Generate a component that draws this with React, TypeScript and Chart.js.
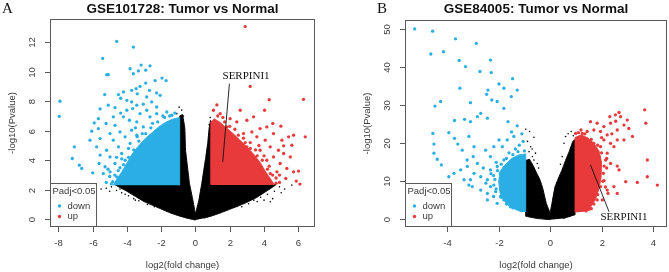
import React, { useEffect, useRef } from "react";
import { Chart, registerables } from "chart.js";
Chart.register(...registerables);

// ---------- data ----------
const titleA = "GSE101728: Tumor vs Normal";
const titleB = "GSE84005: Tumor vs Normal";
const legendTitle = "Padj<0.05";
const legendLabels = ["down", "up"];
const geneLabel = "SERPINI1";

const xTicksA = [-8, -6, -4, -2, 0, 2, 4, 6];
const yTicksA = [0, 2, 4, 6, 8, 10, 12];
const xTicksB = [-4, -2, 0, 2, 4];
const yTicksB = [0, 10, 20, 30, 40, 50];

const xRangeA = [-8.48, 6.97];
const yRangeA = [-0.52, 13.57];
const xRangeB = [-5.645, 4.545];
const yRangeB = [-2.03, 52.45];

// dense regions (outline of the solid clouds)
const blackAreaA = [
  [0, -0.05], [-0.5, 0.08], [-1, 0.25], [-1.5, 0.45], [-2, 0.7], [-2.5, 0.95], [-3, 1.2], [-3.5, 1.55],
  [-4, 1.9], [-4.4, 2.15], [-4.7, 2.35], [-0.92, 2.35], [-0.92, 7.0], [-0.75, 7.1], [-0.62, 6.2],
  [-0.58, 4.7], [-0.35, 2.43], [-0.15, 1.3], [0, 0.35], [0.2, 1.3], [0.37, 2.43], [0.6, 4.2],
  [0.72, 5.2], [0.8, 6.2], [0.88, 6.7], [0.92, 6.5], [0.92, 2.35], [4.7, 2.35], [4.4, 2.1], [4.0, 1.8],
  [3.6, 1.5], [3.0, 1.15], [2.5, 0.9], [2.0, 0.68], [1.5, 0.45], [1.0, 0.25], [0.5, 0.08],
];
const blueAreaA = [
  [-0.92, 2.3], [-0.92, 6.9], [-1.3, 6.8], [-1.7, 6.6], [-2.1, 6.3], [-2.5, 5.9], [-2.9, 5.5],
  [-3.3, 5.0], [-3.7, 4.4], [-4.0, 3.8], [-4.3, 3.2], [-4.6, 2.7], [-4.8, 2.3],
];
const redAreaA = [
  [0.9, 2.33], [0.9, 6.6], [1.1, 6.8], [1.4, 6.6], [1.8, 6.2], [2.2, 5.8], [2.6, 5.35], [3.0, 4.9],
  [3.4, 4.4], [3.8, 3.8], [4.1, 3.2], [4.4, 2.7], [4.6, 2.33],
];
const blackAreaB = [
  [0, -0.1], [-0.5, 0.2], [-0.95, 0.8], [-0.95, 15.5], [-0.8, 15.8], [-0.65, 14.0], [-0.55, 12.5],
  [-0.4, 10.5], [-0.3, 8.5], [-0.15, 4.2], [0, 1.6], [0.07, 4.2], [0.19, 8.6], [0.3, 10.5],
  [0.45, 12.8], [0.6, 15.5], [0.75, 18], [0.88, 20.5], [0.97, 21], [0.97, 1.2], [0.5, 0.2],
];
const blueAreaB = [
  [-0.95, 1.9], [-0.95, 17.2], [-1.2, 17.0], [-1.5, 16.0], [-1.8, 14.0], [-1.95, 12.5], [-2.0, 10],
  [-1.95, 7], [-1.8, 5], [-1.6, 3.5], [-1.35, 2.6], [-1.1, 1.9],
];
const redAreaB = [
  [0.97, 1.8], [0.97, 21.5], [1.2, 22.2], [1.45, 21.5], [1.7, 20.0], [1.9, 18], [2.0, 15], [1.98, 11],
  [1.9, 8], [1.75, 5], [1.55, 3], [1.3, 2.0],
];

// individual genes outside the dense regions
const blueDotsA = [
  [-4.59, 12.05], [-3.62, 11.67], [-5.41, 10.9], [-5.17, 9.8], [-5.08, 9.8], [-3.81, 10.2], [-3.17, 10.45],
  [-2.9, 10.1], [-2.65, 10.4], [-3.62, 9.86], [-3.33, 10.05], [-1.95, 9.57], [-1.71, 9.4], [-2.35, 9.4],
  [-2.9, 9.23], [-3.23, 9.0], [-3.46, 8.85], [-3.72, 8.74], [-4.2, 8.63], [-5.29, 8.45], [-4.49, 8.45],
  [-3.39, 8.5], [-2.68, 8.74], [-2.26, 8.56], [-2.06, 8.4], [-2.84, 8.29], [-4.36, 8.2], [-4.0, 8.06],
  [-3.72, 7.95], [-5.08, 7.73], [-4.69, 7.57], [-3.42, 7.73], [-3.04, 7.8], [-2.55, 7.95], [-2.26, 7.61],
  [-5.56, 7.48], [-4.36, 7.2], [-4.0, 7.39], [-3.66, 7.5], [-5.66, 6.82], [-4.79, 6.94], [-4.2, 6.94],
  [-3.23, 7.16], [-2.84, 7.39], [-2.26, 7.16], [-1.67, 7.27], [-1.38, 7.05], [-5.9, 6.53], [-5.21, 6.49],
  [-4.69, 6.37], [-3.85, 6.71], [-3.42, 6.6], [-2.65, 6.94], [-6.05, 5.97], [-5.66, 6.15], [-4.98, 5.81],
  [-4.4, 5.92], [-3.72, 6.04], [-3.04, 6.26], [-6.15, 5.36], [-5.56, 5.47], [-4.79, 5.36], [-4.1, 5.59],
  [-3.42, 5.7], [-5.76, 4.91], [-5.18, 4.68], [-4.49, 4.91], [-3.81, 5.14], [-5.56, 4.35], [-4.98, 4.23],
  [-4.3, 4.46], [-5.62, 3.78], [-5.27, 3.56], [-4.69, 3.78], [-4.1, 4.0], [-5.37, 3.1], [-4.98, 3.22],
  [-4.59, 2.88], [-4.82, 2.55], [-4.4, 2.55], [-7.9, 8.0], [-7.94, 6.98], [-7.06, 4.91], [-7.18, 4.12],
  [-6.77, 3.67], [-6.63, 3.45], [-5.99, 3.15], [-1.9, 7.0], [-2.5, 6.5], [-3.1, 5.8], [-3.9, 4.8],
  [-4.4, 3.5], [-5.0, 2.9], [-5.2, 2.5], [-1.2, 7.2], [-3.5, 6.2], [-4.6, 4.2],
  [-4.9, 2.4], [-4.7, 3.0], [-4.5, 3.3], [-4.2, 3.7], [-3.9, 4.2], [-3.6, 4.7], [-3.3, 5.3], [-2.9, 5.8],
  [-2.6, 6.2], [-2.2, 6.6], [-1.8, 6.9], [-1.5, 7.0], [-5.1, 3.4], [-4.3, 4.1], [-3.4, 5.6],
];
const redDotsA = [
  [2.9, 13.06], [3.19, 9.0], [4.3, 8.1], [6.3, 8.13], [1.25, 7.75], [2.61, 7.39], [4.03, 7.39], [3.39, 6.94],
  [2.02, 6.82], [2.41, 6.6], [3.0, 6.71], [4.51, 6.49], [4.98, 6.31], [3.77, 6.15], [4.16, 6.26], [3.29, 5.92],
  [5.72, 5.7], [5.43, 5.59], [6.4, 5.59], [3.58, 5.59], [4.55, 5.81], [5.04, 5.36], [2.8, 5.81], [4.07, 5.36],
  [5.62, 5.02], [4.36, 4.91], [5.14, 4.98], [4.84, 4.68], [3.77, 4.68], [5.53, 4.23], [4.55, 4.23],
  [5.14, 4.46], [4.16, 4.0], [4.94, 3.78], [5.33, 3.45], [5.72, 3.22], [6.01, 3.27], [4.75, 3.22],
  [3.77, 3.33], [4.36, 3.1], [5.27, 2.77], [5.88, 2.59], [6.09, 2.39], [3.19, 2.88], [3.97, 2.66],
  [3.39, 4.0], [3.0, 4.91], [2.22, 5.36], [1.83, 6.26], [1.44, 7.16], [1.05, 7.39], [1.6, 6.9],
  [2.3, 6.1], [2.8, 5.5], [3.5, 4.7], [4.0, 4.3], [4.3, 3.6], [4.7, 2.8], [4.9, 2.5], [3.2, 5.2],
  [4.7, 2.45], [4.5, 3.0], [4.2, 3.4], [3.9, 4.0], [3.6, 4.3], [3.2, 4.8], [2.9, 5.2], [2.5, 5.7],
  [2.0, 6.3], [1.7, 6.6], [1.3, 7.0], [4.9, 3.0], [3.7, 5.0],
];
const blackDotsA = [
  [-4.9, 2.2], [-5.2, 2.1], [-5.5, 2.05], [-4.6, 1.95], [-4.3, 1.8], [-3.9, 1.6], [-3.6, 1.4], [-3.3, 1.25],
  [-3.8, 2.0], [-5.0, 1.9], [-2.8, 1.0], [-2.4, 0.85], [-4.4, 2.05], [-4.1, 1.7], [-3.5, 1.3], [-5.8, 2.2],
  [4.9, 2.2], [5.2, 2.05], [4.6, 1.9], [4.2, 1.7], [3.8, 1.5], [3.4, 1.3], [4.36, 1.19], [5.62, 2.32],
  [3.1, 1.05], [2.7, 0.85], [4.5, 1.4], [4.0, 1.3], [5.0, 1.8], [3.6, 1.2],
  [-1.09, 7.16], [-0.8, 7.4], [-0.7, 7.0], [0.86, 6.9], [0.8, 6.4], [-0.95, 7.6],
];
const blueDotsB = [
  [-5.27, 50.1], [-4.57, 49.5], [-4.64, 43.5], [-4.15, 44.1], [-3.68, 47.5], [-2.87, 46.3], [-3.54, 41.8],
  [-3.29, 40.2], [-2.32, 41.9], [-2.73, 38.9], [-2.29, 38.6], [-1.46, 37.0], [-3.51, 34.5], [-1.99, 35.6],
  [-1.8, 34.5], [-1.28, 34.0], [-2.42, 34.0], [-2.47, 32.9], [-1.51, 32.3], [-4.26, 31.0], [-4.48, 29.8],
  [-3.1, 30.7], [-2.27, 31.4], [-2.06, 31.0], [-1.8, 29.2], [-2.7, 27.9], [-2.83, 27.0], [-3.1, 25.7],
  [-3.72, 26.0], [-3.33, 26.3], [-2.44, 26.6], [-1.64, 25.7], [-1.28, 24.6], [-3.94, 22.8], [-4.56, 22.6],
  [-4.52, 19.8], [-4.52, 17.4], [-4.39, 15.8], [-4.23, 14.3], [-3.59, 19.8], [-3.72, 21.3], [-3.16, 21.8],
  [-3.42, 18.2], [-2.96, 19.1], [-2.51, 18.2], [-2.32, 16.5], [-2.99, 16.5], [-3.23, 15.6], [-2.83, 14.7],
  [-3.74, 12.1], [-3.94, 11.2], [-3.48, 13.0], [-3.22, 13.9], [-3.1, 10.4], [-2.96, 12.1], [-2.7, 11.2],
  [-2.44, 10.4], [-2.32, 13.0], [-2.19, 9.0], [-1.93, 12.1], [-2.06, 13.9], [-1.8, 15.6], [-1.86, 19.1],
  [-1.67, 20.9], [-1.41, 21.8], [-1.99, 20.9], [-2.19, 19.1], [-3.35, 10.4], [-3.03, 8.6], [-2.7, 7.7],
  [-2.44, 6.8], [-2.12, 7.3], [-1.93, 6.0], [-1.8, 5.1], [-1.67, 4.2], [-2.06, 4.2], [-1.54, 3.3],
  [-2.32, 8.6], [-3.16, 9.0], [-2.44, 5.1], [-1.2, 19.5], [-1.1, 22.5], [-1.35, 18.5], [-1.6, 17.5],
  [-2.1, 15.0], [-2.2, 11.5], [-2.6, 13.5], [-2.5, 9.5], [-1.05, 20.5], [-1.5, 23.0],
  [-2.1, 8.0], [-2.15, 10.5], [-2.05, 12.8], [-1.9, 14.5], [-1.7, 16.0], [-1.45, 17.0], [-1.9, 5.8],
  [-1.7, 4.0], [-1.45, 3.0], [-2.2, 6.0], [-2.3, 12.0], [-1.25, 17.8], [-1.0, 18.0],
];
const redDotsB = [
  [2.68, 28.1], [3.68, 28.8], [3.72, 25.3], [3.78, 15.6], [3.78, 11.2], [4.17, 9.0], [3.39, 9.7], [2.94, 9.9],
  [2.68, 13.0], [2.61, 14.0], [2.22, 17.4], [2.48, 19.1], [2.22, 22.2], [2.61, 23.5], [2.87, 24.8],
  [3.06, 23.9], [3.0, 26.1], [2.74, 27.0], [2.54, 27.5], [2.32, 27.0], [2.35, 25.3], [2.09, 24.4],
  [1.96, 23.1], [1.83, 25.3], [1.57, 25.7], [1.7, 23.5], [1.44, 23.1], [1.25, 22.6], [3.2, 21.8],
  [2.87, 20.9], [2.61, 20.9], [2.35, 20.0], [2.09, 20.9], [1.96, 19.1], [2.16, 15.6], [2.35, 14.7],
  [2.22, 7.7], [1.96, 8.6], [2.07, 12.1], [1.83, 5.1], [1.83, 12.1], [2.03, 5.1], [2.25, 6.8],
  [2.61, 6.8], [2.48, 8.6], [0.99, 22.6], [1.12, 20.9], [1.44, 20.9], [1.7, 20.0], [1.9, 16.5],
  [2.1, 10.2], [2.2, 13.5], [1.4, 2.2], [1.6, 2.8], [1.2, 23.5], [2.4, 22.5], [2.0, 21.5], [2.55, 25.8],
  [2.05, 10.0], [2.1, 14.0], [2.0, 17.5], [1.85, 19.5], [1.6, 21.0], [1.35, 22.5], [1.85, 6.5],
  [1.7, 4.0], [1.5, 2.6], [2.15, 8.5], [1.1, 22.8], [2.2, 16.0],
];
const blackDotsB = [
  [-0.95, 23.7], [-0.8, 23.1], [-0.63, 21.6], [-0.76, 19.1], [-0.57, 17.4], [-0.5, 14.7], [-0.63, 15.6],
  [-0.69, 16.5], [-0.82, 17.8], [-0.88, 20.5], [-0.45, 13.5], [-0.7, 18.5],
  [0.6, 21.8], [0.82, 23.1], [0.54, 20.0], [0.47, 16.5], [0.7, 22.5], [0.4, 14.5], [0.9, 22.0],
];

const serpinTextA = [2.95, 9.68];
const serpinLineA = [[1.98, 9.19], [1.59, 3.89]];
const serpinTextB = [2.87, 0.7];
const serpinLineB = [[1.57, 14.3], [2.29, 2.0]];

// ---------- styles ----------
const BLUE = "#2AAEE4";
const RED = "#E83A3A";
const BLACK = "#000000";
const TEXT = "#3a3a3a";
const FRAME = "#5a5a5a";
const SANS = '"Liberation Sans", Arial, sans-serif';
const SERIF = '"Liberation Serif", "Times New Roman", serif';

type Pt = { x: number; y: number };
const toPts = (a: number[][]): Pt[] => a.map(([x, y]) => ({ x, y }));

const polygon = (d: number[][], color: string, order: number) => ({
  type: "line" as const,
  data: toPts(d),
  fill: "shape",
  backgroundColor: color,
  borderColor: color,
  borderWidth: 1,
  pointRadius: 0,
  pointHoverRadius: 0,
  tension: 0.0001,
  capBezierPoints: false,
  order,
});
const dots = (d: number[][], color: string, r: number, order: number) => ({
  type: "scatter" as const,
  data: toPts(d),
  backgroundColor: color,
  pointBorderWidth: 0,
  borderWidth: 0,
  pointRadius: r,
  pointHoverRadius: r,
  order,
});

const decoPlugin = {
  id: "deco",
  afterDatasetsDraw(chart: any, _args: any, o: any) {
    const { ctx, chartArea: a, scales } = chart;
    const sx = scales.x;
    const sy = scales.y;
    ctx.save();
    // gene annotation
    ctx.strokeStyle = "#111";
    ctx.lineWidth = 0.9;
    ctx.beginPath();
    ctx.moveTo(sx.getPixelForValue(o.line[0][0]), sy.getPixelForValue(o.line[0][1]));
    ctx.lineTo(sx.getPixelForValue(o.line[1][0]), sy.getPixelForValue(o.line[1][1]));
    ctx.stroke();
    ctx.fillStyle = "#111";
    ctx.font = `11px ${SERIF}`;
    ctx.textAlign = "center";
    ctx.textBaseline = "middle";
    ctx.fillText(geneLabel, sx.getPixelForValue(o.text[0]), sy.getPixelForValue(o.text[1]));

    // legend box (bottom-left inside the plot)
    const lw = 47, lh = 44;
    const lx = a.left, ly = a.bottom - lh;
    ctx.fillStyle = "#fff";
    ctx.fillRect(lx, ly, lw, lh);
    ctx.strokeStyle = FRAME;
    ctx.lineWidth = 1;
    ctx.strokeRect(lx + 0.5, ly + 0.5, lw - 1, lh - 1);
    ctx.font = `9.5px ${SANS}`;
    ctx.fillStyle = TEXT;
    ctx.textAlign = "left";
    ctx.fillText(legendTitle, lx + 2.5, ly + 8.3);
    const cols = [BLUE, RED];
    legendLabels.forEach((lab, i) => {
      const yy = ly + 23 + i * 10.5;
      ctx.fillStyle = cols[i];
      ctx.beginPath();
      ctx.arc(lx + 9.5, yy, 1.7, 0, Math.PI * 2);
      ctx.fill();
      ctx.fillStyle = TEXT;
      ctx.fillText(lab, lx + 17.5, yy);
    });

    // frame
    ctx.strokeStyle = FRAME;
    ctx.lineWidth = 1;
    ctx.strokeRect(Math.round(a.left) + 0.5, Math.round(a.top) + 0.5, Math.round(a.width) - 1, Math.round(a.height) - 1);

    // x ticks
    ctx.fillStyle = TEXT;
    ctx.font = `9.5px ${SANS}`;
    ctx.textAlign = "center";
    ctx.textBaseline = "middle";
    o.xTicks.forEach((t: number) => {
      const px = Math.round(sx.getPixelForValue(t)) + 0.5;
      ctx.beginPath();
      ctx.moveTo(px, a.bottom);
      ctx.lineTo(px, a.bottom + 5);
      ctx.stroke();
      ctx.fillText(String(t), px, a.bottom + 16.5);
    });
    // y ticks (rotated like R)
    o.yTicks.forEach((t: number) => {
      const py = Math.round(sy.getPixelForValue(t)) + 0.5;
      ctx.beginPath();
      ctx.moveTo(a.left, py);
      ctx.lineTo(a.left - 5, py);
      ctx.stroke();
      ctx.save();
      ctx.translate(a.left - 17.5, py);
      ctx.rotate(-Math.PI / 2);
      ctx.fillText(String(t), 0, 0);
      ctx.restore();
    });
    // axis titles
    ctx.fillText("log2(fold change)", (a.left + a.right) / 2, a.bottom + 38.5);
    ctx.save();
    ctx.translate(a.left - 37.5, (a.top + a.bottom) / 2);
    ctx.rotate(-Math.PI / 2);
    ctx.fillText("-log10(Pvalue)", 0, 0);
    ctx.restore();
    // main title
    ctx.fillStyle = "#111";
    ctx.font = `bold 13.5px ${SANS}`;
    ctx.fillText(o.title, (a.left + a.right) / 2, 9);
    // panel letter
    ctx.font = `15px ${SERIF}`;
    ctx.textAlign = "left";
    ctx.textBaseline = "alphabetic";
    ctx.fillText(o.letter, o.letterX, 13);
    ctx.restore();
  },
};

type PanelCfg = {
  left: number;
  width: number;
  padding: { left: number; right: number; top: number; bottom: number };
  xRange: number[];
  yRange: number[];
  black: number[][];
  blue: number[][];
  red: number[][];
  blueDots: number[][];
  redDots: number[][];
  blackDots: number[][];
  deco: any;
};

function Panel({ cfg }: { cfg: PanelCfg }) {
  const ref = useRef<HTMLCanvasElement>(null);
  useEffect(() => {
    const chart = new Chart(ref.current as HTMLCanvasElement, {
      type: "scatter",
      data: {
        datasets: [
          dots(cfg.redDots, RED, 1.65, 0),
          dots(cfg.blueDots, BLUE, 1.65, 1),
          polygon(cfg.red, RED, 2),
          polygon(cfg.blue, BLUE, 3),
          dots(cfg.blackDots, BLACK, 0.8, 4),
          polygon(cfg.black, BLACK, 5),
        ] as any,
      },
      options: {
        animation: false,
        responsive: false,
        maintainAspectRatio: false,
        events: [],
        layout: { padding: cfg.padding },
        scales: {
          x: { type: "linear", min: cfg.xRange[0], max: cfg.xRange[1], display: false },
          y: { type: "linear", min: cfg.yRange[0], max: cfg.yRange[1], display: false },
        },
        plugins: {
          legend: { display: false },
          tooltip: { enabled: false },
          title: { display: false },
          deco: cfg.deco,
        } as any,
      },
      plugins: [decoPlugin],
    });
    return () => chart.destroy();
  }, []);
  return (
    <canvas
      ref={ref}
      width={cfg.width}
      height={272}
      style={{ position: "absolute", left: cfg.left, top: 0, width: cfg.width, height: 272 }}
    />
  );
}

const panelA: PanelCfg = {
  left: 0,
  width: 334,
  padding: { left: 50, right: 19, top: 19, bottom: 45 },
  xRange: xRangeA,
  yRange: yRangeA,
  black: blackAreaA,
  blue: blueAreaA,
  red: redAreaA,
  blueDots: blueDotsA,
  redDots: redDotsA,
  blackDots: blackDotsA,
  deco: { title: titleA, letter: "A", letterX: 2, xTicks: xTicksA, yTicks: yTicksA, text: serpinTextA, line: serpinLineA },
};
const panelB: PanelCfg = {
  left: 334,
  width: 335,
  padding: { left: 71, right: 2, top: 20, bottom: 45 },
  xRange: xRangeB,
  yRange: yRangeB,
  black: blackAreaB,
  blue: blueAreaB,
  red: redAreaB,
  blueDots: blueDotsB,
  redDots: redDotsB,
  blackDots: blackDotsB,
  deco: { title: titleB, letter: "B", letterX: 43, xTicks: xTicksB, yTicks: yTicksB, text: serpinTextB, line: serpinLineB },
};

export default function App() {
  return (
    <div style={{ position: "absolute", left: 0, top: 0, width: 669, height: 272, background: "#fff" }}>
      <Panel cfg={panelA} />
      <Panel cfg={panelB} />
    </div>
  );
}
